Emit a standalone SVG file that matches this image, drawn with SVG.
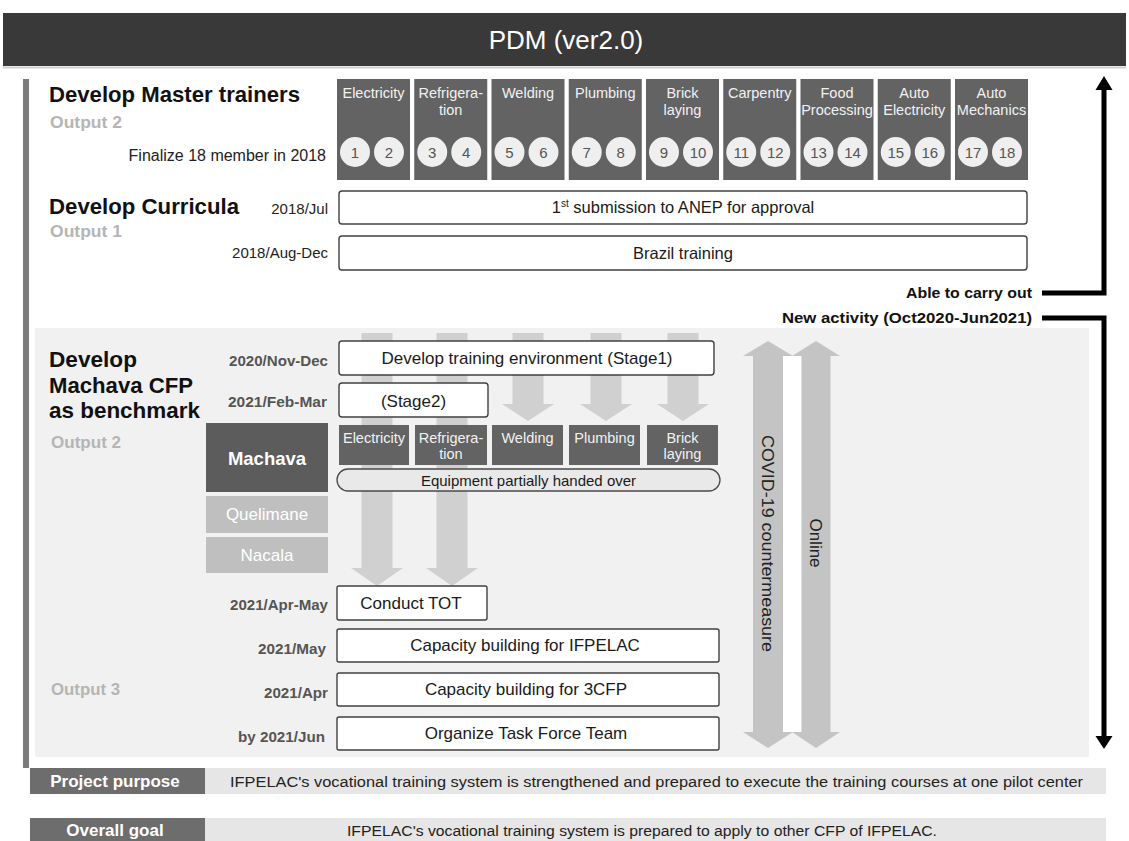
<svg xmlns="http://www.w3.org/2000/svg" width="1129" height="841" viewBox="0 0 1129 841">
  <style>
    text { font-family: "Liberation Sans", Arial, sans-serif; }
    .title { font-size: 26px; fill: #ffffff; text-anchor: middle; }
    .head { font-size: 22px; font-weight: bold; fill: #111111; }
    .out { font-size: 16px; font-weight: bold; fill: #b5b5b5; }
    .date { font-size: 15px; fill: #222222; text-anchor: end; }
    .dateb { font-size: 14.5px; font-weight: bold; fill: #555555; text-anchor: end; }
    .trade { fill: #636363; }
    .tlab { font-size: 14.5px; fill: #f2f2f2; text-anchor: middle; }
    .num { fill: #efefef; }
    .numt { font-size: 15px; fill: #555555; text-anchor: middle; }
    .box { fill: #ffffff; stroke: #404040; stroke-width: 1.4; }
    .btxt { font-size: 16.5px; fill: #1a1a1a; text-anchor: middle; }
    .btxt2 { font-size: 17px; fill: #1a1a1a; text-anchor: middle; }
    .note { font-size: 14.5px; font-weight: bold; fill: #111111; text-anchor: end; }
    .bline { stroke: #000000; stroke-width: 5; fill: none; }
    .flow { fill: #d0d0d0; }
    .covid { fill: #c4c4c4; }
    .vtxt { font-size: 17px; fill: #222222; text-anchor: middle; }
    .site { font-size: 17px; fill: #ffffff; text-anchor: middle; }
    .lbl { fill: #6d6d6d; }
    .lbltxt { font-size: 17px; font-weight: bold; fill: #ffffff; text-anchor: middle; }
    .band { fill: #e6e6e6; }
    .bandtxt { font-size: 15.5px; fill: #222222; }
  </style>
  <defs>
    <marker id="tipUp" viewBox="0 0 10 10" refX="5" refY="0" markerWidth="4" markerHeight="3.2" orient="auto">
      <path d="M0,10 L5,0 L10,10 Z" fill="#000"/>
    </marker>
  </defs>

  <!-- page background -->
  <rect x="0" y="0" width="1129" height="841" fill="#ffffff"/>

  <!-- title bar -->
  <g id="title">
    <rect x="3" y="13" width="1123" height="53" fill="#393939"/>
    <line x1="3" y1="67.5" x2="1126" y2="67.5" stroke="#cfcfcf" stroke-width="2"/>
    <text class="title" x="566" y="49">PDM (ver2.0)</text>
  </g>

  <!-- left rail -->
  <rect id="rail" x="23" y="79" width="6" height="689" fill="#7a7a7a"/>

  <!-- lower panel background -->
  <rect id="panel" x="35" y="328" width="1054" height="429" fill="#f1f1f1"/>

  <!-- master trainers -->
  <g id="master-trainers">
    <text class="head" x="49" y="102" textLength="251" lengthAdjust="spacingAndGlyphs">Develop Master trainers</text>
    <text class="out" x="50" y="128" textLength="72" lengthAdjust="spacingAndGlyphs">Output 2</text>
    <text x="326" y="161" font-size="16" fill="#222" text-anchor="end">Finalize 18 member in 2018</text>
  </g>

  <g id="trades-top">
    <g id="t-electricity">
      <rect class="trade" x="337" y="79" width="73" height="101"/>
      <text class="tlab" x="373.5" y="98">Electricity</text>
      <circle class="num" cx="355" cy="152" r="15"/><text class="numt" x="355" y="157.5">1</text>
      <circle class="num" cx="389" cy="152" r="15"/><text class="numt" x="389" y="157.5">2</text>
    </g>
    <g id="t-refrigeration">
      <rect class="trade" x="414.25" y="79" width="73" height="101"/>
      <text class="tlab" x="450.75" y="98">Refrigera-</text>
      <text class="tlab" x="450.75" y="115">tion</text>
      <circle class="num" cx="432.25" cy="152" r="15"/><text class="numt" x="432.25" y="157.5">3</text>
      <circle class="num" cx="466.25" cy="152" r="15"/><text class="numt" x="466.25" y="157.5">4</text>
    </g>
    <g id="t-welding">
      <rect class="trade" x="491.5" y="79" width="73" height="101"/>
      <text class="tlab" x="528" y="98">Welding</text>
      <circle class="num" cx="509.5" cy="152" r="15"/><text class="numt" x="509.5" y="157.5">5</text>
      <circle class="num" cx="543.5" cy="152" r="15"/><text class="numt" x="543.5" y="157.5">6</text>
    </g>
    <g id="t-plumbing">
      <rect class="trade" x="568.75" y="79" width="73" height="101"/>
      <text class="tlab" x="605.25" y="98">Plumbing</text>
      <circle class="num" cx="586.75" cy="152" r="15"/><text class="numt" x="586.75" y="157.5">7</text>
      <circle class="num" cx="620.75" cy="152" r="15"/><text class="numt" x="620.75" y="157.5">8</text>
    </g>
    <g id="t-bricklaying">
      <rect class="trade" x="646" y="79" width="73" height="101"/>
      <text class="tlab" x="682.5" y="98">Brick</text>
      <text class="tlab" x="682.5" y="115">laying</text>
      <circle class="num" cx="664" cy="152" r="15"/><text class="numt" x="664" y="157.5">9</text>
      <circle class="num" cx="698" cy="152" r="15"/><text class="numt" x="698" y="157.5">10</text>
    </g>
    <g id="t-carpentry">
      <rect class="trade" x="723.25" y="79" width="73" height="101"/>
      <text class="tlab" x="759.75" y="98">Carpentry</text>
      <circle class="num" cx="741.25" cy="152" r="15"/><text class="numt" x="741.25" y="157.5">11</text>
      <circle class="num" cx="775.25" cy="152" r="15"/><text class="numt" x="775.25" y="157.5">12</text>
    </g>
    <g id="t-food">
      <rect class="trade" x="800.5" y="79" width="73" height="101"/>
      <text class="tlab" x="837" y="98">Food</text>
      <text class="tlab" x="837" y="115">Processing</text>
      <circle class="num" cx="818.5" cy="152" r="15"/><text class="numt" x="818.5" y="157.5">13</text>
      <circle class="num" cx="852.5" cy="152" r="15"/><text class="numt" x="852.5" y="157.5">14</text>
    </g>
    <g id="t-autoelec">
      <rect class="trade" x="877.75" y="79" width="73" height="101"/>
      <text class="tlab" x="914.25" y="98">Auto</text>
      <text class="tlab" x="914.25" y="115">Electricity</text>
      <circle class="num" cx="895.75" cy="152" r="15"/><text class="numt" x="895.75" y="157.5">15</text>
      <circle class="num" cx="929.75" cy="152" r="15"/><text class="numt" x="929.75" y="157.5">16</text>
    </g>
    <g id="t-automech">
      <rect class="trade" x="955" y="79" width="73" height="101"/>
      <text class="tlab" x="991.5" y="98">Auto</text>
      <text class="tlab" x="991.5" y="115">Mechanics</text>
      <circle class="num" cx="973" cy="152" r="15"/><text class="numt" x="973" y="157.5">17</text>
      <circle class="num" cx="1007" cy="152" r="15"/><text class="numt" x="1007" y="157.5">18</text>
    </g>
  </g>

  <!-- curricula -->
  <g id="curricula">
    <text class="head" x="49" y="214" textLength="190" lengthAdjust="spacingAndGlyphs">Develop Curricula</text>
    <text class="out" x="50" y="237" textLength="72" lengthAdjust="spacingAndGlyphs">Output 1</text>
    <text class="date" x="328" y="214">2018/Jul</text>
    <text class="date" x="328" y="258">2018/Aug-Dec</text>
  </g>
  <g id="anep">
    <rect class="box" x="339" y="191" width="688" height="33" rx="3"/>
    <text class="btxt" x="683" y="213">1<tspan font-size="10" dy="-6">st</tspan><tspan dy="6"> submission to ANEP for approval</tspan></text>
  </g>
  <g id="brazil">
    <rect class="box" x="339" y="236" width="688" height="34" rx="3"/>
    <text class="btxt" x="683" y="259">Brazil training</text>
  </g>

  <!-- timeline markers -->
  <g id="timeline">
    <text class="note" x="1032" y="298" textLength="126" lengthAdjust="spacingAndGlyphs">Able to carry out</text>
    <text class="note" x="1032" y="323" textLength="250" lengthAdjust="spacingAndGlyphs">New activity (Oct2020-Jun2021)</text>
  </g>

  <!-- Machava benchmark section -->
  <g id="machava-heading">
    <text class="head" x="49" y="367" textLength="88" lengthAdjust="spacingAndGlyphs">Develop</text>
    <text class="head" x="49" y="393" textLength="144" lengthAdjust="spacingAndGlyphs">Machava CFP</text>
    <text class="head" x="49" y="418" textLength="151" lengthAdjust="spacingAndGlyphs">as benchmark</text>
    <text class="out" x="51" y="448" textLength="70" lengthAdjust="spacingAndGlyphs">Output 2</text>
    <text class="out" x="51" y="695" textLength="69" lengthAdjust="spacingAndGlyphs">Output 3</text>
  </g>

  <g id="dates-lower">
    <text class="dateb" x="328" y="366" textLength="99" lengthAdjust="spacingAndGlyphs">2020/Nov-Dec</text>
    <text class="dateb" x="327" y="407" textLength="99" lengthAdjust="spacingAndGlyphs">2021/Feb-Mar</text>
    <text class="dateb" x="328" y="610" textLength="98" lengthAdjust="spacingAndGlyphs">2021/Apr-May</text>
    <text class="dateb" x="326" y="654" textLength="68" lengthAdjust="spacingAndGlyphs">2021/May</text>
    <text class="dateb" x="328" y="698" textLength="64" lengthAdjust="spacingAndGlyphs">2021/Apr</text>
    <text class="dateb" x="325" y="742" textLength="87" lengthAdjust="spacingAndGlyphs">by 2021/Jun</text>
  </g>

  <!-- equipment flow arrows -->
  <g id="connectors">
    <path class="flow" d="M361.5,333 H392.5 V568 H403 L377,586 L351,568 H361.5 Z"/>
    <path class="flow" d="M436.5,333 H467.5 V568 H478 L452,586 L426,568 H436.5 Z"/>
    <path class="flow" d="M512.5,333 H543.5 V404 H554 L528,421 L502,404 H512.5 Z"/>
    <path class="flow" d="M590.5,333 H621.5 V404 H632 L606,421 L580,404 H590.5 Z"/>
    <path class="flow" d="M667.5,333 H698.5 V404 H709 L683,421 L657,404 H667.5 Z"/>

    <!-- overall timeline brackets -->
    <polyline class="bline" points="1042,293 1104,293 1104,86"/>
    <path d="M1104,76 L1095.5,90 L1112.5,90 Z" fill="#000"/>
    <polyline class="bline" points="1042,318 1104,318 1104,740"/>
    <path d="M1104,749 L1095.5,736 L1112.5,736 Z" fill="#000"/>
  </g>

  <g id="stage1">
    <rect class="box" x="339" y="341" width="375" height="34" rx="3"/>
    <text class="btxt2" x="527" y="364">Develop training environment (Stage1)</text>
  </g>
  <g id="stage2">
    <rect class="box" x="339" y="383" width="149" height="34" rx="3"/>
    <text class="btxt2" x="413.5" y="407">(Stage2)</text>
  </g>

  <g id="sites">
    <g id="machava">
      <rect x="206" y="423" width="122" height="69" fill="#5c5c5c"/>
      <text x="267" y="465" font-size="18.5" font-weight="bold" fill="#ffffff" text-anchor="middle">Machava</text>
    </g>
    <g id="quelimane">
      <rect x="206" y="496" width="122" height="37" fill="#bfbfbf"/>
      <text class="site" x="267" y="520">Quelimane</text>
    </g>
    <g id="nacala">
      <rect x="206" y="537" width="122" height="36" fill="#bfbfbf"/>
      <text class="site" x="267" y="561">Nacala</text>
    </g>
  </g>

  <g id="trades-machava">
    <g id="m-electricity">
      <rect class="trade" x="339" y="425" width="70" height="40"/>
      <text class="tlab" x="374" y="443">Electricity</text>
    </g>
    <g id="m-refrigeration">
      <rect class="trade" x="415" y="425" width="72" height="40"/>
      <text class="tlab" x="451" y="443">Refrigera-</text>
      <text class="tlab" x="451" y="459">tion</text>
    </g>
    <g id="m-welding">
      <rect class="trade" x="492" y="425" width="71" height="40"/>
      <text class="tlab" x="527.5" y="443">Welding</text>
    </g>
    <g id="m-plumbing">
      <rect class="trade" x="569" y="425" width="71" height="40"/>
      <text class="tlab" x="604.5" y="443">Plumbing</text>
    </g>
    <g id="m-bricklaying">
      <rect class="trade" x="647" y="425" width="71" height="40"/>
      <text class="tlab" x="682.5" y="443">Brick</text>
      <text class="tlab" x="682.5" y="459">laying</text>
    </g>
  </g>

  <g id="equipment">
    <rect x="337" y="469" width="383" height="22" rx="11" fill="#e9e9e9" stroke="#4a4a4a" stroke-width="1.3"/>
    <text x="528.5" y="486" font-size="15" fill="#1a1a1a" text-anchor="middle">Equipment partially handed over</text>
  </g>

  <g id="tot">
    <rect class="box" x="337" y="586" width="150" height="34" rx="2"/>
    <text class="btxt2" x="411" y="609">Conduct TOT</text>
  </g>
  <g id="cb-ifpelac">
    <rect class="box" x="337" y="629" width="382" height="33" rx="2"/>
    <text class="btxt2" x="525" y="651">Capacity building for IFPELAC</text>
  </g>
  <g id="cb-3cfp">
    <rect class="box" x="337" y="673" width="382" height="33" rx="2"/>
    <text class="btxt2" x="526" y="695">Capacity building for 3CFP</text>
  </g>
  <g id="taskforce">
    <rect class="box" x="337" y="717" width="382" height="33" rx="2"/>
    <text class="btxt2" x="526" y="739">Organize Task Force Team</text>
  </g>

  <!-- COVID-19 countermeasure / online double arrows -->
  <g id="covid">
    <rect x="783" y="356" width="18.5" height="376" fill="#ffffff"/>
    <path class="covid" d="M768,341 L793,356 H783 V732 H793 L768,748 L743,732 H753 V356 H743 Z"/>
    <text class="vtxt" transform="translate(768,543.5) rotate(90)" y="6" textLength="217" lengthAdjust="spacingAndGlyphs">COVID-19 countermeasure</text>
  </g>
  <g id="online">
    <path class="covid" d="M816,341 L840,356 H830.5 V732 H840 L816,748 L792,732 H801.5 V356 H792 Z"/>
    <text class="vtxt" transform="translate(816,543) rotate(90)" y="6">Online</text>
  </g>

  <!-- purpose and goal -->
  <g id="purpose">
    <rect class="lbl" x="30" y="768" width="175" height="26"/>
    <rect class="band" x="205" y="768" width="901" height="26"/>
    <text class="lbltxt" x="115" y="787">Project purpose</text>
    <text class="bandtxt" x="230" y="787" textLength="853" lengthAdjust="spacingAndGlyphs">IFPELAC's vocational training system is strengthened and prepared to execute the training courses at one pilot center</text>
  </g>
  <g id="goal">
    <rect class="lbl" x="30" y="818" width="175" height="25"/>
    <rect class="band" x="205" y="818" width="901" height="25"/>
    <text class="lbltxt" x="115" y="836">Overall goal</text>
    <text class="bandtxt" x="347" y="836" textLength="590" lengthAdjust="spacingAndGlyphs">IFPELAC's vocational training system is prepared to apply to other CFP of IFPELAC.</text>
  </g>
</svg>
